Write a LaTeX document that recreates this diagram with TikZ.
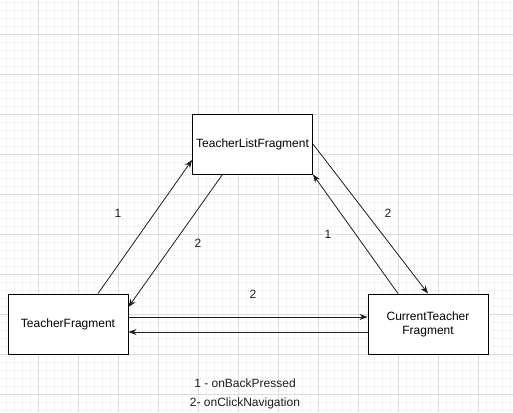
\documentclass[tikz,border=0pt]{standalone}
\usepackage{fontspec}
\setmainfont{Liberation Sans}
\usetikzlibrary{shapes,positioning,arrows.meta}
\definecolor{minorgrid}{RGB}{242,242,242}
\definecolor{majorgrid}{RGB}{220,220,220}
\definecolor{ink}{RGB}{30,30,30}
\tikzset{frag/.style={rectangle,draw,fill=white,line width=0.9pt,minimum width=120pt,minimum height=60pt,align=center,inner sep=2pt,font=\fontsize{12}{14}\selectfont},
  lbl/.style={font=\fontsize{12}{14}\selectfont,text=ink,inner sep=1pt},
  link/.style={->,draw=ink,line width=0.8pt}}
\begin{document}
\begin{tikzpicture}[x=1pt,y=-1pt,>={Stealth[length=8pt,width=6pt]}]
    \useasboundingbox (0,0) rectangle (513,412);
    \fill[white] (0,0) rectangle (513,412);
    \foreach \x in {6,14,...,510} \draw[minorgrid,line width=0.5pt] (\x,0) -- (\x,412);
    \foreach \y in {2,10,...,410} \draw[minorgrid,line width=0.5pt] (0,\y) -- (513,\y);
    \foreach \x in {38,78,...,498} \draw[majorgrid,line width=0.6pt] (\x,0) -- (\x,412);
    \foreach \y in {34,74,...,394} \draw[majorgrid,line width=0.6pt] (0,\y) -- (513,\y);

    \node[frag] (tlf)at (252.5,144) {TeacherListFragment};
    \node[frag] (tf)at (68,324) {TeacherFragment};
    \node[frag] (ctf)at (428,324) {CurrentTeacher\\Fragment};

    \draw [link] ([xshift=30pt]tf.north) to (tlf.west |- 0,160);
    \draw [link] ([xshift=-30pt]tlf.south) to ([yshift=17pt]tf.east);
    \draw [link] (tlf.east) to (ctf.north);
    \draw [link] ([xshift=-30pt]ctf.north) to (tlf.south east);
    \draw [link] ([yshift=7pt]tf.east) to ([yshift=7pt]ctf.west);
    \draw [link] ([yshift=-8pt]ctf.west) to ([yshift=-8pt]tf.east);

    \node[lbl] (n1)at (118,213) {1};
    \node[lbl] (n2)at (198,243) {2};
    \node[lbl] (n3)at (388,213) {2};
    \node[lbl] (n4)at (328,234) {1};
    \node[lbl] (n5)at (253,294) {2};

    \node[lbl] (key1)at (245,383) {1 - onBackPressed};
    \node[lbl] (key2)at (245,403) {2- onClickNavigation};
\end{tikzpicture}
\end{document}
